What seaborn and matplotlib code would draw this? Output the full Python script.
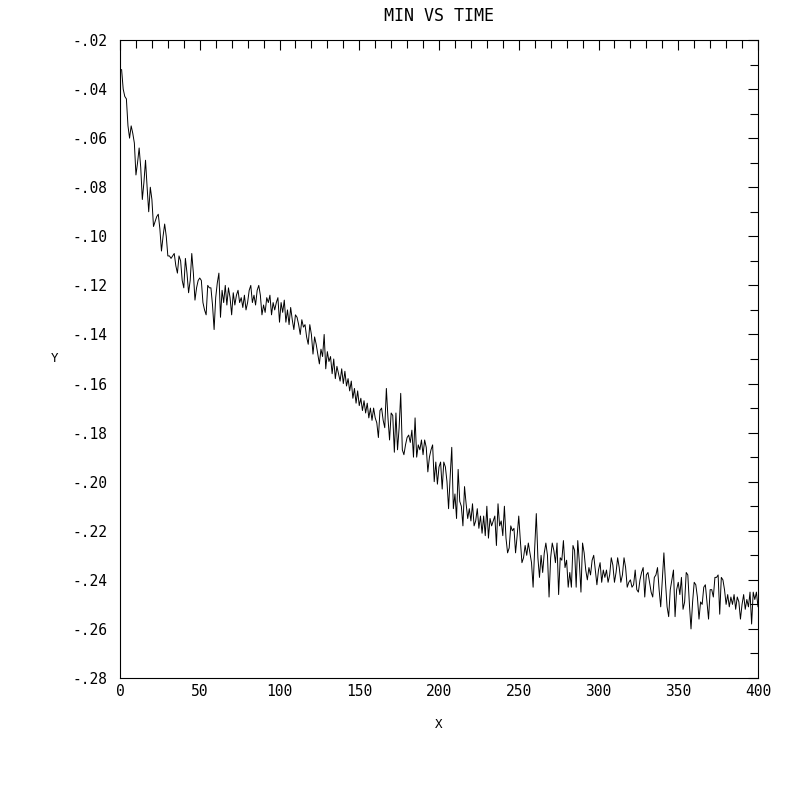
import numpy as np
import pandas as pd
import seaborn as sns
import matplotlib.pyplot as plt
from matplotlib.ticker import MultipleLocator, FuncFormatter

# MIN vs TIME (one sample per time step)
time = np.arange(1, 401)
min_val = [
    -.032, -.040, -.043, -.044, -.055, -.060, -.055, -.058, -.062, -.075,
    -.070, -.064, -.072, -.085, -.078, -.069, -.080, -.090, -.080, -.085,
    -.096, -.094, -.092, -.091, -.097, -.106, -.100, -.095, -.100, -.108,
    -.108, -.109, -.108, -.107, -.112, -.115, -.108, -.110, -.118, -.121,
    -.109, -.115, -.123, -.118, -.107, -.115, -.126, -.121, -.118, -.117,
    -.118, -.127, -.130, -.132, -.120, -.121, -.121, -.128, -.138, -.125,
    -.119, -.115, -.133, -.122, -.127, -.120, -.128, -.121, -.125, -.132,
    -.123, -.128, -.124, -.122, -.127, -.125, -.129, -.124, -.130, -.127,
    -.122, -.120, -.127, -.124, -.128, -.122, -.120, -.124, -.132, -.128,
    -.131, -.125, -.127, -.124, -.132, -.127, -.130, -.127, -.125, -.135,
    -.127, -.131, -.126, -.135, -.130, -.136, -.129, -.134, -.138, -.132,
    -.133, -.136, -.140, -.134, -.137, -.136, -.141, -.144, -.136, -.140,
    -.148, -.141, -.144, -.148, -.152, -.146, -.149, -.140, -.154, -.147,
    -.151, -.149, -.156, -.150, -.158, -.153, -.156, -.159, -.154, -.160,
    -.155, -.161, -.158, -.163, -.159, -.166, -.162, -.168, -.163, -.169,
    -.166, -.171, -.167, -.172, -.168, -.174, -.170, -.175, -.170, -.174,
    -.176, -.182, -.171, -.170, -.175, -.178, -.162, -.174, -.183, -.172,
    -.173, -.188, -.172, -.187, -.178, -.164, -.187, -.189, -.185, -.182,
    -.181, -.184, -.179, -.190, -.174, -.190, -.185, -.187, -.183, -.189,
    -.183, -.186, -.196, -.190, -.187, -.185, -.200, -.192, -.201, -.194,
    -.192, -.203, -.192, -.194, -.200, -.211, -.198, -.186, -.211, -.205,
    -.215, -.195, -.208, -.210, -.218, -.202, -.209, -.215, -.211, -.216,
    -.209, -.218, -.216, -.211, -.219, -.214, -.221, -.214, -.222, -.210,
    -.223, -.215, -.218, -.216, -.214, -.226, -.209, -.218, -.216, -.222,
    -.210, -.223, -.229, -.227, -.218, -.220, -.219, -.229, -.222, -.214,
    -.224, -.233, -.231, -.226, -.230, -.225, -.229, -.233, -.243, -.227,
    -.213, -.231, -.239, -.230, -.237, -.229, -.225, -.230, -.247, -.231,
    -.225, -.228, -.233, -.225, -.246, -.231, -.232, -.224, -.235, -.232,
    -.243, -.237, -.243, -.226, -.228, -.243, -.224, -.233, -.245, -.225,
    -.229, -.236, -.240, -.235, -.238, -.232, -.230, -.236, -.242, -.236,
    -.233, -.241, -.236, -.239, -.236, -.241, -.238, -.231, -.234, -.241,
    -.237, -.231, -.235, -.241, -.238, -.231, -.235, -.243, -.241, -.240,
    -.243, -.242, -.236, -.244, -.245, -.240, -.237, -.235, -.247, -.238,
    -.237, -.241, -.245, -.247, -.239, -.238, -.235, -.244, -.251, -.240,
    -.229, -.241, -.251, -.255, -.244, -.240, -.236, -.255, -.244, -.241,
    -.246, -.239, -.252, -.249, -.237, -.238, -.250, -.260, -.249, -.241,
    -.242, -.247, -.256, -.249, -.250, -.243, -.242, -.249, -.256, -.244,
    -.244, -.247, -.239, -.239, -.238, -.254, -.239, -.240, -.244, -.250,
    -.246, -.251, -.247, -.250, -.246, -.252, -.247, -.249, -.256, -.250,
    -.246, -.252, -.248, -.251, -.245, -.258, -.245, -.248, -.245, -.251,
]

df = pd.DataFrame({'X': time, 'Y': min_val})

sns.set_style('white')
plt.rcParams['font.family'] = ['DejaVu Sans Mono', 'DejaVu Sans']

fig = plt.figure(figsize=(8, 8), dpi=100)
ax = fig.add_axes([0.15, 0.1525, 0.7975, 0.7975])
sns.lineplot(data=df, x='X', y='Y', color='black', linewidth=0.7, ax=ax)

ax.set_xlim(0, 400)
ax.set_ylim(-0.28, -0.02)
ax.xaxis.set_major_locator(MultipleLocator(50))
ax.xaxis.set_minor_locator(MultipleLocator(10))
ax.yaxis.set_major_locator(MultipleLocator(0.02))
ax.yaxis.set_minor_locator(MultipleLocator(0.01))
ax.yaxis.set_major_formatter(FuncFormatter(lambda v, p: ('%.2f' % v).replace('0.', '.', 1)))
ax.xaxis.set_major_formatter(FuncFormatter(lambda v, p: '%d' % v))

ax.tick_params(which='both', direction='in', top=True, right=True,
               color='black', labelcolor='black', width=0.8, labelsize=10.5)
ax.tick_params(which='major', length=7.5)
ax.tick_params(which='minor', length=5.5)
ax.tick_params(axis='y', which='major', pad=9)
ax.tick_params(axis='x', which='major', pad=4)
for s in ax.spines.values():
    s.set_color('black')
    s.set_linewidth(0.8)

ax.set_title('MIN VS TIME', fontsize=12, pad=14, color='black')
ax.set_xlabel('X', fontsize=9, color='black')
ax.set_ylabel('Y', fontsize=9, rotation=0, va='center', ha='center', color='black')
ax.xaxis.set_label_coords(0.5, -0.063)
ax.yaxis.set_label_coords(-0.102, 0.5)

fig.savefig('out.png', dpi=100, facecolor='white')
